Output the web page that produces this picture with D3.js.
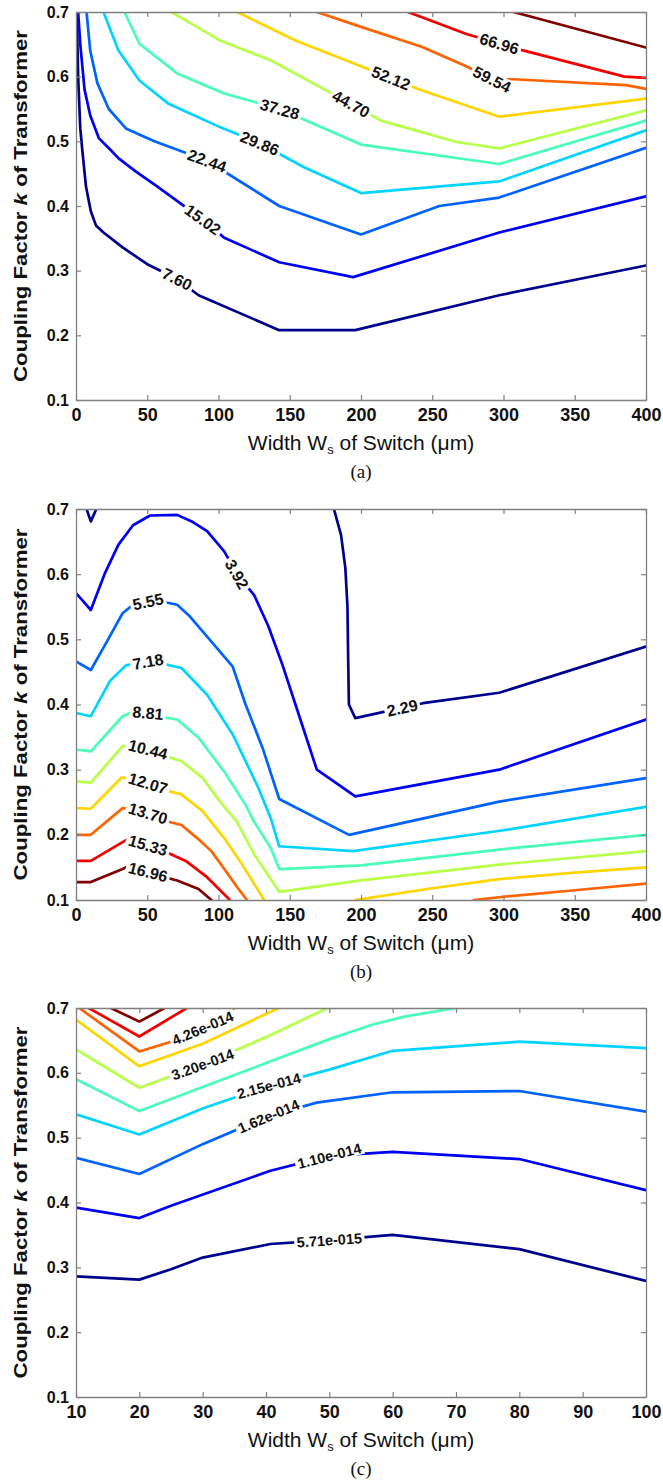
<!DOCTYPE html>
<html><head><meta charset="utf-8">
<script src="https://cdn.jsdelivr.net/npm/d3@7"></script>
<style>body{margin:0;background:#fff}svg{display:block}</style>
</head><body>
<svg id="chart" width="663" height="1484"></svg>
<script>
// ---------------- data ----------------
const yTicks = [0.1, 0.2, 0.3, 0.4, 0.5, 0.6, 0.7];
const xTicksAB = [0, 50, 100, 150, 200, 250, 300, 350, 400];
const xTicksC = [10, 20, 30, 40, 50, 60, 70, 80, 90, 100];

const levelsA = [7.60, 15.02, 22.44, 29.86, 37.28, 44.70, 52.12, 59.54, 66.96, 74.38];
const linesA = [
  [7.60, [[0.5,0.70],[1.5,0.60],[3,0.52],[4.5,0.485],[7,0.43],[10.4,0.392],[14,0.37],[19.3,0.359],[32.7,0.336],[50,0.31],[71,0.287],[86,0.262],[142.6,0.208],[196,0.208],[297,0.262],[400,0.308]]],
  [15.02, [[1.5,0.70],[3,0.65],[6,0.58],[10,0.54],[16,0.505],[25,0.485],[29.7,0.474],[41.6,0.454],[56.4,0.431],[89,0.379],[104,0.351],[142.6,0.313],[194.5,0.29],[297,0.359],[400,0.415]]],
  [22.44, [[7.4,0.70],[10,0.64],[15,0.59],[23,0.55],[35,0.52],[55,0.50],[92,0.47],[142.6,0.40],[200,0.356],[255,0.40],[297,0.413],[400,0.49]]],
  [29.86, [[19.3,0.70],[29.7,0.641],[44.5,0.594],[65,0.558],[101,0.522],[129,0.497],[160,0.46],[200,0.42],[297,0.438],[400,0.517]]],
  [37.28, [[34,0.70],[44.5,0.651],[71,0.605],[104,0.574],[143,0.55],[200,0.495],[297,0.465],[400,0.532]]],
  [44.70, [[67,0.70],[101,0.656],[137,0.625],[193,0.558],[214,0.532],[267,0.499],[297,0.489],[400,0.548]]],
  [52.12, [[113,0.70],[154,0.656],[221,0.598],[240,0.581],[297,0.538],[400,0.566]]],
  [59.54, [[169,0.70],[200,0.677],[243,0.646],[273,0.617],[292,0.596],[307,0.596],[386,0.587],[400,0.581]]],
  [66.96, [[233,0.70],[274,0.666],[297,0.651],[313,0.641],[385,0.60],[400,0.598]]],
  [74.38, [[307,0.70],[400,0.645]]]
];
const labelsA = [[7.60,71,0.287],[15.02,89,0.379],[22.44,92,0.47],[29.86,129,0.497],[37.28,143,0.55],[44.70,193,0.558],[52.12,221,0.598],[59.54,292,0.594],[66.96,297,0.651]];

const levelsB = [2.29, 3.92, 5.55, 7.18, 8.81, 10.44, 12.07, 13.70, 15.33, 16.96];
const linesB = [
  [2.29, [[7.4,0.70],[10.4,0.681],[14.3,0.70]]],
  [2.29, [[181,0.70],[186,0.66],[189,0.61],[190.5,0.55],[191,0.47],[191.5,0.40],[196,0.379],[243.5,0.402],[297,0.418],[400,0.489]]],
  [3.92, [[0,0.571],[10.4,0.545],[20,0.60],[29.7,0.645],[40,0.675],[52,0.69],[71,0.691],[82,0.68],[92,0.666],[104,0.635],[113,0.60],[125,0.568],[135,0.52],[145,0.46],[157,0.38],[169,0.30],[196,0.259],[297,0.30],[400,0.377]]],
  [5.55, [[0,0.466],[10.4,0.453],[20,0.49],[32.7,0.54],[40,0.553],[50.5,0.558],[60,0.558],[71,0.553],[80,0.535],[92,0.504],[110,0.458],[119,0.40],[131,0.333],[142.6,0.255],[191.6,0.20],[297,0.251],[400,0.287]]],
  [7.18, [[0,0.387],[10.4,0.382],[23.8,0.436],[35,0.46],[50.5,0.466],[62,0.462],[74,0.456],[92,0.415],[110,0.354],[128,0.272],[136.6,0.226],[142.6,0.1825],[194.5,0.175],[300,0.207],[400,0.243]]],
  [8.81, [[0,0.331],[10.4,0.328],[32.7,0.382],[40,0.389],[50.5,0.387],[62,0.38],[71,0.377],[86,0.349],[104,0.297],[119,0.246],[125,0.22],[136.6,0.18],[142.6,0.1475],[200,0.153],[300,0.178],[400,0.20]]],
  [10.44, [[0,0.282],[10.4,0.28],[32.7,0.336],[40,0.337],[50.5,0.331],[64,0.32],[74,0.313],[89,0.287],[101,0.251],[113,0.22],[125,0.17],[142.6,0.1125],[200,0.13],[300,0.155],[400,0.175]]],
  [12.07, [[0,0.241],[10.4,0.24],[32,0.288],[40,0.286],[50.5,0.279],[65,0.267],[74,0.262],[89,0.236],[104,0.195],[115,0.16],[125,0.125],[132,0.10]]],
  [12.07, [[196,0.10],[250,0.118],[297,0.132],[350,0.142],[400,0.15]]],
  [13.70, [[0,0.20],[10.4,0.20],[32.7,0.241],[40,0.24],[50.5,0.233],[65,0.22],[74,0.215],[85,0.195],[95,0.175],[105,0.145],[113,0.12],[120,0.10]]],
  [13.70, [[279,0.10],[300,0.105],[350,0.115],[400,0.125]]],
  [15.33, [[0,0.16],[10.4,0.16],[29.7,0.185],[36,0.193],[50.5,0.184],[64,0.173],[77,0.16],[92,0.135],[108,0.10]]],
  [16.96, [[0,0.1275],[10.4,0.1275],[32.7,0.1475],[36,0.151],[50.5,0.143],[64,0.134],[71,0.13],[86,0.117],[95,0.10]]]
];
const labelsB = [[2.29,228.7,0.397],[3.92,113,0.60],[5.55,50.5,0.558],[7.18,50.5,0.466],[8.81,50.5,0.387],[10.44,50.5,0.331],[12.07,50.5,0.279],[13.70,50.5,0.233],[15.33,50.5,0.184],[16.96,50.5,0.143]];

const levelsC = [5.71e-15, 1.10e-14, 1.62e-14, 2.15e-14, 2.68e-14, 3.20e-14, 3.73e-14, 4.26e-14, 4.79e-14, 5.32e-14];
const linesC = [
  [5.71e-15, [[10,0.286],[20,0.281],[25,0.297],[30,0.315],[40.7,0.336],[50,0.342],[60,0.35],[80,0.328],[100,0.279]]],
  [1.10e-14, [[10,0.392],[20,0.376],[25,0.395],[40.7,0.449],[50,0.472],[60,0.478],[80,0.467],[100,0.419]]],
  [1.62e-14, [[10,0.469],[20,0.444],[30,0.49],[40.4,0.533],[48,0.554],[60,0.57],[80,0.572],[100,0.54]]],
  [2.15e-14, [[10,0.536],[20,0.505],[30,0.545],[40.4,0.58],[50,0.605],[60,0.634],[80,0.648],[100,0.638]]],
  [2.68e-14, [[10,0.59],[20,0.541],[30,0.578],[40,0.615],[50,0.652],[57,0.675],[62,0.687],[70,0.70]]],
  [3.20e-14, [[10,0.636],[20,0.577],[30,0.613],[40,0.655],[49.7,0.70]]],
  [3.73e-14, [[10,0.682],[20,0.61],[30,0.645],[42,0.70]]],
  [4.26e-14, [[10.5,0.70],[20,0.633],[25,0.648],[30,0.669],[35,0.70]]],
  [4.79e-14, [[12,0.70],[20,0.656],[27.5,0.70]]],
  [5.32e-14, [[15.5,0.70],[20,0.679],[24,0.70]]]
];
const labelsC = [[4.26e-14,30,0.669],[3.20e-14,30,0.613],[2.15e-14,40.4,0.582],[1.62e-14,40.4,0.533],[1.10e-14,50,0.472],[5.71e-15,50,0.342]];

// ---------------- drawing ----------------
const svg = d3.select("#chart");
const defs = svg.append("defs");
const L = 76, R = 646;
const jet = d3.scaleLinear()
  .domain([0, 0.125, 0.375, 0.625, 0.875, 1])
  .range(["#00008f", "#0000ff", "#00ffff", "#ffff00", "#ff0000", "#800000"]);
const fmt2 = d3.format(".2f");
function fmtE(v) {
  const s = v.toExponential(2);
  const [m, e] = s.split("e");
  const sign = e[0] === "-" ? "-" : "+";
  const digits = e.replace(/[+-]/, "").padStart(3, "0");
  return m + "e" + sign + digits;
}
const panels = [
  {top: 12, bottom: 400, xDomain: [0, 400], xTicks: xTicksAB, levels: levelsA, lines: linesA, labels: labelsA, fmt: fmt2, letter: "(a)", fs: 16},
  {top: 509, bottom: 900, xDomain: [0, 400], xTicks: xTicksAB, levels: levelsB, lines: linesB, labels: labelsB, fmt: fmt2, letter: "(b)", fs: 16},
  {top: 1008, bottom: 1397, xDomain: [10, 100], xTicks: xTicksC, levels: levelsC, lines: linesC, labels: labelsC, fmt: fmtE, letter: "(c)", fs: 14.5}
];
const FONT = "'Liberation Sans', Arial, Helvetica, sans-serif";

function nearestOnPolyline(pts, P) {
  let best = {d: Infinity};
  for (let i = 0; i < pts.length - 1; i++) {
    const A = pts[i], B = pts[i + 1];
    const dx = B[0] - A[0], dy = B[1] - A[1];
    const len2 = dx * dx + dy * dy || 1;
    let t = ((P[0] - A[0]) * dx + (P[1] - A[1]) * dy) / len2;
    t = Math.max(0, Math.min(1, t));
    const Q = [A[0] + t * dx, A[1] + t * dy];
    const d = Math.hypot(P[0] - Q[0], P[1] - Q[1]);
    if (d < best.d) {
      let ang = Math.atan2(dy, dx) * 180 / Math.PI;
      if (ang > 90) ang -= 180;
      if (ang < -90) ang += 180;
      best = {d, Q, ang};
    }
  }
  return best;
}

panels.forEach((p, pi) => {
  const x = d3.scaleLinear().domain(p.xDomain).range([L, R]);
  const y = d3.scaleLinear().domain([0.1, 0.7]).range([p.bottom, p.top]);
  const g = svg.append("g");
  const clipId = "clip" + pi;
  defs.append("clipPath").attr("id", clipId).append("rect")
    .attr("x", L).attr("y", p.top).attr("width", R - L).attr("height", p.bottom - p.top);

  const lvlIndex = v => p.levels.findIndex(l => Math.abs(l - v) <= Math.abs(v) * 1e-6);
  const colorOf = v => jet(lvlIndex(v) / (p.levels.length - 1));
  const pix = p.lines.map(([lv, pts]) => pts.map(([a, b]) => [x(a), y(b)]));

  const lineG = g.append("g").attr("clip-path", `url(#${clipId})`);
  const labelG = g.append("g");

  const gaps = p.lines.map(() => []);
  p.labels.forEach(([lv, lx, ly]) => {
    const P = [x(lx), y(ly)];
    let best = {d: Infinity}, bestIdx = -1;
    p.lines.forEach(([v], li) => {
      if (lvlIndex(v) !== lvlIndex(lv)) return;
      const n = nearestOnPolyline(pix[li], P);
      if (n.d < best.d) { best = n; bestIdx = li; }
    });
    const t = labelG.append("text")
      .attr("transform", `translate(${best.Q[0]},${best.Q[1]}) rotate(${best.ang})`)
      .attr("text-anchor", "middle").attr("dy", "0.36em")
      .attr("font-family", FONT).attr("font-weight", "bold")
      .attr("font-size", p.fs).attr("fill", "#111")
      .text(p.fmt(lv));
    const w = t.node().getComputedTextLength();
    gaps[bestIdx].push({Q: best.Q, ang: best.ang, w: w + 5, h: p.fs * 0.9});
  });

  p.lines.forEach(([lv, pts], li) => {
    let maskAttr = null;
    if (gaps[li].length) {
      const mid = `m${pi}_${li}`;
      const m = defs.append("mask").attr("id", mid).attr("maskUnits", "userSpaceOnUse")
        .attr("x", 0).attr("y", 0).attr("width", 663).attr("height", 1484);
      m.append("rect").attr("x", 0).attr("y", 0).attr("width", 663).attr("height", 1484).attr("fill", "#fff");
      gaps[li].forEach(gp => {
        m.append("rect").attr("x", -gp.w / 2).attr("y", -gp.h / 2).attr("width", gp.w).attr("height", gp.h)
          .attr("transform", `translate(${gp.Q[0]},${gp.Q[1]}) rotate(${gp.ang})`).attr("fill", "#000");
      });
      maskAttr = `url(#${mid})`;
    }
    lineG.append("path")
      .datum(pts)
      .attr("d", d3.line().x(d => x(d[0])).y(d => y(d[1])))
      .attr("fill", "none").attr("stroke", colorOf(lv))
      .attr("stroke-width", 2.7).attr("stroke-linejoin", "round").attr("stroke-linecap", "round")
      .attr("mask", maskAttr);
  });
  labelG.raise();

  const axisColor = "#808080";
  const styleAxis = sel => {
    sel.selectAll("path.domain").attr("stroke", axisColor).attr("stroke-width", 1.3);
    sel.selectAll(".tick line").attr("stroke", axisColor).attr("stroke-width", 1.2);
    sel.selectAll("text").attr("fill", "#111").attr("font-family", FONT).attr("font-weight", "bold");
  };
  g.append("g").attr("transform", `translate(0,${p.bottom})`)
    .call(d3.axisBottom(x).tickValues(p.xTicks).tickSizeInner(-5).tickSizeOuter(0).tickPadding(8).tickFormat(d3.format("d")))
    .call(styleAxis).call(s => s.selectAll("text").attr("font-size", 18));
  g.append("g").attr("transform", `translate(0,${p.top})`)
    .call(d3.axisTop(x).tickValues(p.xTicks).tickSizeInner(-5).tickSizeOuter(0).tickFormat(""))
    .call(styleAxis);
  g.append("g").attr("transform", `translate(${L},0)`)
    .call(d3.axisLeft(y).tickValues(yTicks).tickSizeInner(-5).tickSizeOuter(0).tickPadding(7).tickFormat(d3.format(".1f")))
    .call(styleAxis).call(s => s.selectAll("text").attr("font-size", 16));
  g.append("g").attr("transform", `translate(${R},0)`)
    .call(d3.axisRight(y).tickValues(yTicks).tickSizeInner(-5).tickSizeOuter(0).tickFormat(""))
    .call(styleAxis);

  const xt = g.append("text").attr("x", (L + R) / 2).attr("y", p.bottom + 50)
    .attr("text-anchor", "middle").attr("font-family", FONT).attr("font-size", 21).attr("fill", "#111");
  xt.append("tspan").text("Width W");
  xt.append("tspan").attr("font-size", 13).attr("dy", 4).text("s");
  xt.append("tspan").attr("dy", -4).text(" of Switch (\u03bcm)");

  const yt = g.append("text")
    .attr("transform", `translate(27,${(p.top + p.bottom) / 2}) rotate(-90)`)
    .attr("text-anchor", "middle").attr("font-family", FONT).attr("font-weight", "bold")
    .attr("font-size", 18).attr("fill", "#111")
    .attr("textLength", 352).attr("lengthAdjust", "spacingAndGlyphs");
  yt.append("tspan").text("Coupling Factor ");
  yt.append("tspan").attr("font-style", "italic").text("k");
  yt.append("tspan").text(" of Transformer");

  g.append("text").attr("x", 361).attr("y", p.bottom + 78)
    .attr("text-anchor", "middle").attr("font-family", "'Liberation Serif', 'Times New Roman', serif")
    .attr("font-size", 19).attr("fill", "#111").text(p.letter);
});
</script>
</body></html>
